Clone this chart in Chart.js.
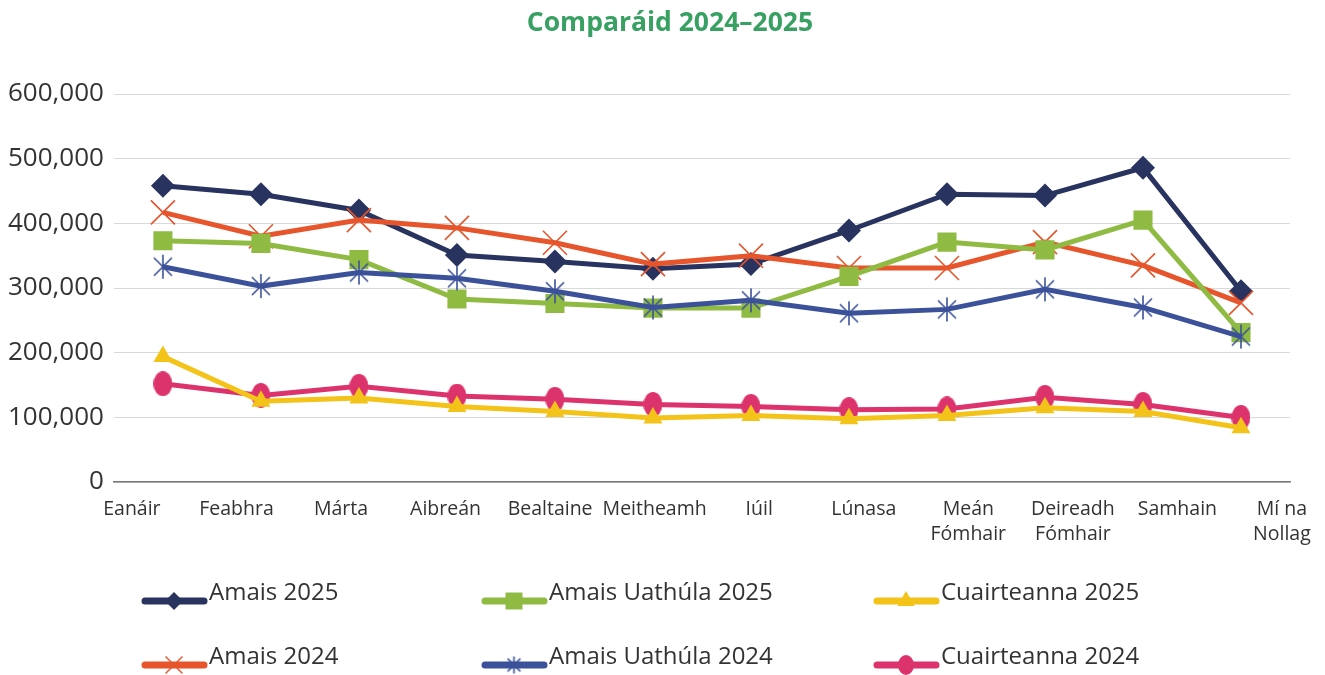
<!DOCTYPE html>
<html>
<head>
<meta charset="utf-8">
<script src="https://cdn.jsdelivr.net/npm/chart.js@4"></script>
<style>
  html, body { margin: 0; padding: 0; background: #fff; }
  #wrap { width: 1325px; height: 675px; position: relative; }
</style>
</head>
<body>
<div id="wrap"><canvas id="chart"></canvas></div>
<script>
var chartTitle = 'Comparáid 2024–2025';

// month labels (multi-line where the picture wraps them)
var months = ['Eanáir', 'Feabhra', 'Márta', 'Aibreán', 'Bealtaine', 'Meitheamh', 'Iúil',
  'Lúnasa', 'Meán Fómhair', 'Deireadh Fómhair', 'Samhain', 'Mí na Nollag'];
var monthTicks = [['Eanáir'], ['Feabhra'], ['Márta'], ['Aibreán'], ['Bealtaine'], ['Meitheamh'], ['Iúil'],
  ['Lúnasa'], ['Meán', 'Fómhair'], ['Deireadh', 'Fómhair'], ['Samhain'], ['Mí na', 'Nollag']];

var amais2025 = [458000, 445000, 420000, 351000, 341000, 330000, 337000, 389000, 445000, 443000, 486000, 295000];
var uathula2025 = [373000, 369000, 344000, 283000, 276000, 269000, 269000, 318000, 371000, 359000, 405000, 231000];
var cuairt2025 = [194000, 125000, 130000, 117000, 109000, 99000, 103000, 98000, 103000, 115000, 109000, 84000];
var amais2024 = [417000, 380000, 405000, 393000, 370000, 337000, 350000, 331000, 331000, 371000, 335000, 277000];
var uathula2024 = [333000, 303000, 324000, 315000, 295000, 270000, 281000, 261000, 267000, 298000, 270000, 225000];
var cuairt2024 = [152000, 134000, 148000, 133000, 128000, 120000, 117000, 112000, 113000, 131000, 120000, 100000];

var yTicks = [0, 100000, 200000, 300000, 400000, 500000, 600000];

// small canvases for the marker shapes Chart.js does not have
function ellipseMarker(color, w, h) {
  var c = document.createElement('canvas');
  c.width = w; c.height = h;
  var g = c.getContext('2d');
  g.fillStyle = color;
  g.beginPath();
  g.ellipse(w / 2, h / 2, w / 2, h / 2, 0, 0, Math.PI * 2);
  g.fill();
  return c;
}
function asteriskMarker(color, s) {
  var c = document.createElement('canvas');
  c.width = s; c.height = s;
  var g = c.getContext('2d');
  g.strokeStyle = color;
  g.lineWidth = 1.6;
  var m = s / 2, r = s / 2 - 1, d = r * 0.75;
  g.beginPath();
  g.moveTo(m, m - r); g.lineTo(m, m + r);
  g.moveTo(m - d, m - d); g.lineTo(m + d, m + d);
  g.moveTo(m + d, m - d); g.lineTo(m - d, m + d);
  g.stroke();
  return c;
}

var pinkDot = ellipseMarker('#dd336c', 19, 25);
var pinkDotSmall = ellipseMarker('#dd336c', 16, 20);
var blueStar = asteriskMarker('#3b5199', 26);
var blueStarSmall = asteriskMarker('#3b5199', 19);

function series(label, data, color, style, radius, extra) {
  var ds = {
    label: label,
    data: data,
    borderColor: color,
    backgroundColor: color,
    borderWidth: 5,
    pointStyle: style,
    pointRadius: radius,
    pointHoverRadius: radius,
    pointBackgroundColor: color,
    pointBorderColor: color,
    pointBorderWidth: 0,
    tension: 0,
    fill: false
  };
  for (var k in extra) ds[k] = extra[k];
  return ds;
}

var datasets = [
  series('Cuairteanna 2025', cuairt2025, '#f3c31a', 'triangle', 11, {}),
  series('Cuairteanna 2024', cuairt2024, '#dd336c', pinkDot, 12, {}),
  series('Amais Uathúla 2024', uathula2024, '#3b5199', blueStar, 13, {}),
  series('Amais Uathúla 2025', uathula2025, '#8fbb43', 'rect', 13.5, {}),
  series('Amais 2024', amais2024, '#e6552b', 'crossRot', 17, { pointBorderWidth: 1.6 }),
  series('Amais 2025', amais2025, '#28335f', 'rectRot', 12, {})
];

// legend order, places and the smaller marker used in each sample
var legendItems = [
  { label: 'Amais 2025', col: 0, row: 0, style: 'rectRot', r: 9, bw: 0 },
  { label: 'Amais Uathúla 2025', col: 1, row: 0, style: 'rect', r: 12, bw: 0 },
  { label: 'Cuairteanna 2025', col: 2, row: 0, style: 'triangle', r: 10, bw: 0 },
  { label: 'Amais 2024', col: 0, row: 1, style: 'crossRot', r: 12, bw: 1.4 },
  { label: 'Amais Uathúla 2024', col: 1, row: 1, style: blueStarSmall, r: 9, bw: 0 },
  { label: 'Cuairteanna 2024', col: 2, row: 1, style: pinkDotSmall, r: 9, bw: 0 }
];
var legendCols = [142, 482, 874];
var legendRows = [601, 665];

var extras = {
  id: 'extras',
  afterDraw: function (chart) {
    var ctx = chart.ctx;
    ctx.save();
    // title
    ctx.fillStyle = '#37a062';
    ctx.font = 'bold 26.5px "Open Sans"';
    ctx.textAlign = 'center';
    ctx.textBaseline = 'middle';
    ctx.fillText(chartTitle, 670, 23);
    // legend with line + marker samples
    legendItems.forEach(function (it) {
      var ds = chart.data.datasets.find(function (d) { return d.label === it.label; });
      var x0 = legendCols[it.col], y = legendRows[it.row];
      ctx.strokeStyle = ds.borderColor;
      ctx.lineWidth = 7;
      ctx.lineCap = 'round';
      ctx.beginPath();
      ctx.moveTo(x0 + 3, y);
      ctx.lineTo(x0 + 62, y);
      ctx.stroke();
      ctx.lineCap = 'butt';
      ctx.fillStyle = ds.borderColor;
      ctx.strokeStyle = ds.borderColor;
      ctx.lineWidth = it.bw;
      Chart.helpers.drawPoint(ctx, {
        pointStyle: it.style,
        radius: it.r,
        borderWidth: it.bw,
        rotation: 0
      }, x0 + 32, y);
      ctx.fillStyle = '#333';
      ctx.font = '24px "Open Sans"';
      ctx.textBaseline = 'middle';
      ctx.textAlign = 'left';
      ctx.fillText(it.label, x0 + 67, y - 8);
    });
    ctx.restore();
  }
};

new Chart(document.getElementById('chart'), {
  type: 'line',
  data: { labels: months, datasets: datasets },
  plugins: [extras],
  options: {
    responsive: true,
    maintainAspectRatio: false,
    animation: false,
    layout: { padding: { left: 8, right: 35, top: 94, bottom: 113 } },
    plugins: {
      legend: { display: false },
      tooltip: { enabled: false },
      title: { display: false }
    },
    scales: {
      x: {
        type: 'category',
        offset: true,
        grid: { display: false, drawTicks: false },
        border: { display: true, color: '#777', width: 1.5 },
        ticks: { display: false }
      },
      x2: {
        type: 'linear',
        position: 'bottom',
        min: -0.172,
        max: 11.077,
        afterFit: function (axis) { axis.paddingLeft = 0; axis.paddingRight = 0; },
        grid: { display: false, drawTicks: false },
        border: { display: false },
        ticks: {
          stepSize: 1,
          includeBounds: false,
          autoSkip: false,
          maxRotation: 0,
          padding: 15,
          color: '#333',
          font: { family: 'Open Sans', size: 19.5, lineHeight: 1.28 },
          callback: function (v) { return monthTicks[v] || ''; }
        }
      },
      y: {
        min: 0,
        max: 600000,
        afterBuildTicks: function (axis) {
          axis.ticks = yTicks.map(function (v) { return { value: v }; });
        },
        afterFit: function (axis) { axis.width -= 10; },
        grid: {
          color: '#d9d9d9',
          lineWidth: 1,
          drawTicks: false
        },
        border: { display: false },
        ticks: {
          padding: 10,
          color: '#333',
          font: { family: 'Open Sans', size: 26 },
          callback: function (v) { return v.toLocaleString('en-US'); }
        }
      }
    }
  }
});
</script>
</body>
</html>
